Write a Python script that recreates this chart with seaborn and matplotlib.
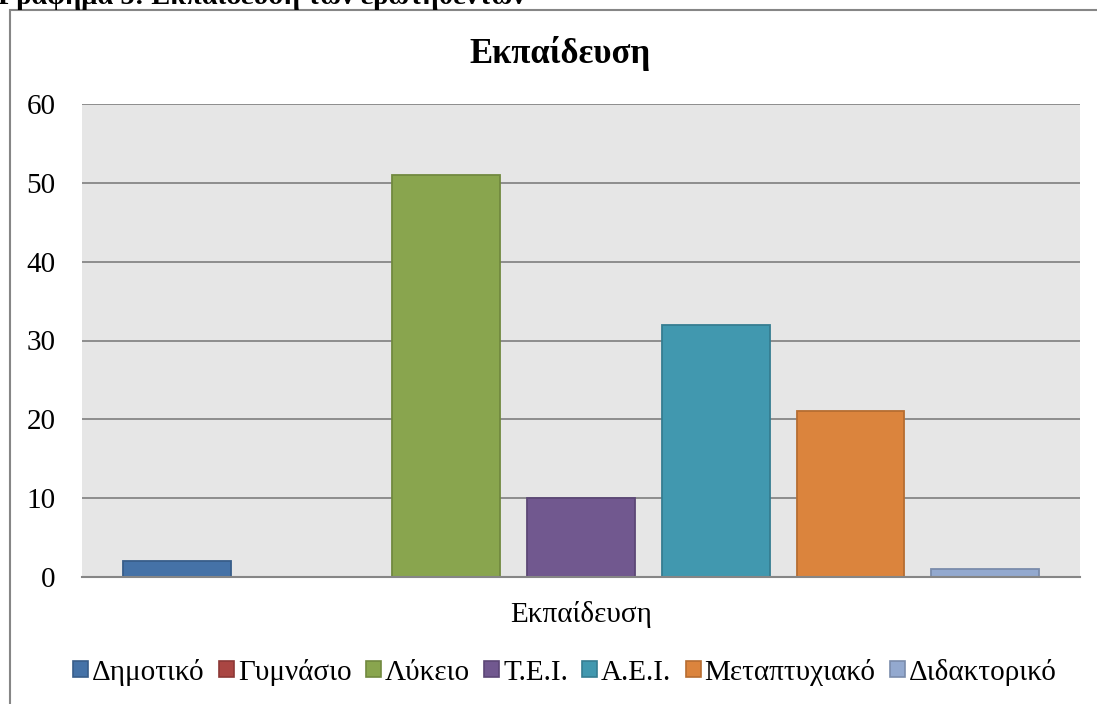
import matplotlib
matplotlib.use("Agg")
import matplotlib.pyplot as plt
import seaborn as sns
import pandas as pd
from matplotlib.patches import Patch, Rectangle

# data
group = "Εκπαίδευση"
levels = ["Δημοτικό", "Γυμνάσιο", "Λύκειο", "Τ.Ε.Ι.", "Α.Ε.Ι.", "Μεταπτυχιακό", "Διδακτορικό"]
counts = [2, 0, 51, 10, 32, 21, 1]
y_ticks = [0, 10, 20, 30, 40, 50, 60]

fill_colors = ["#4572A7", "#AA4643", "#89A54E", "#71588F", "#4198AF", "#DB843D", "#93A9CF"]
edge_colors = ["#385D8A", "#8C3836", "#71893F", "#5C4776", "#357D91", "#B66D31", "#7A8CAB"]

SERIF = ['Liberation Serif', 'DejaVu Serif']

sns.set_style("white")
plt.rcParams['font.family'] = SERIF
plt.rcParams['font.serif'] = SERIF
plt.rcParams['text.color'] = 'black'
plt.rcParams['xtick.color'] = 'black'
plt.rcParams['ytick.color'] = 'black'

df = pd.DataFrame({"group": [group] * len(levels), "level": levels, "count": counts})

fig = plt.figure(figsize=(10.97, 7.04), dpi=100)
ax = fig.add_axes([82 / 1097, 1 - 577 / 704, 998 / 1097, 473 / 704])
ax.set_facecolor("#E6E6E6")

sns.barplot(data=df, x="group", y="count", hue="level", hue_order=levels,
            palette=fill_colors, width=0.945, gap=0.2, ax=ax, legend=False,
            saturation=1)

for cont, ec in zip(ax.containers, edge_colors):
    for bar in cont:
        bar.set_edgecolor(ec)
        bar.set_linewidth(1.3)

ax.set_xlim(-0.5, 0.5)
ax.set_ylim(0, 60)
ax.set_yticks(y_ticks)
ax.yaxis.grid(True, color="#868686", linewidth=1.3)
ax.set_axisbelow(True)
for s in ["left", "right", "top"]:
    ax.spines[s].set_visible(False)
ax.spines["bottom"].set_color("#868686")
ax.spines["bottom"].set_linewidth(1.5)
ax.tick_params(axis="y", length=0, pad=19, labelsize=21)
ax.tick_params(axis="x", length=0, pad=17, labelsize=21)
for lbl in ax.get_xticklabels() + ax.get_yticklabels():
    lbl.set_fontfamily(SERIF)
ax.set_xlabel("")
ax.set_ylabel("")

# title and cut-off caption above the chart frame
fig.text(560 / 1097, 1 - 63 / 704, "Εκπαίδευση", ha="center", va="baseline",
         fontsize=25, fontweight="bold", family=SERIF)
fig.text(-2 / 1097, 1 - 4 / 704, "Γράφημα 5: Εκπαίδευση των ερωτηθέντων",
         ha="left", va="baseline", fontsize=20.5, fontweight="bold", family=SERIF)

# chart frame
fig.patches.append(Rectangle((10 / 1097, -0.1), 1.2, 1 - 10 / 704 + 0.1,
                             transform=fig.transFigure, fill=False,
                             edgecolor="#868686", linewidth=1.5))

handles = [Patch(facecolor=fc, edgecolor=ec, linewidth=1.2)
           for fc, ec in zip(fill_colors, edge_colors)]
fig.legend(handles=handles, labels=levels, loc="center",
           bbox_to_anchor=(565 / 1097, 1 - 672 / 704), ncol=7, frameon=False,
           prop={"family": SERIF, "size": 21}, handlelength=0.5, handleheight=0.5,
           handletextpad=0.14, columnspacing=0.5)

fig.savefig("out.png", dpi=100)
